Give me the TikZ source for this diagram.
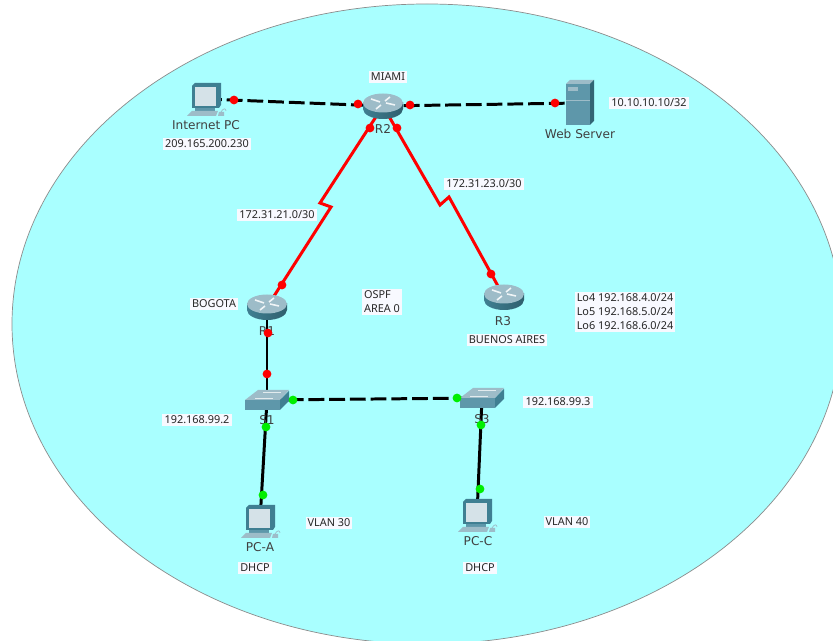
\documentclass[tikz,border=0pt]{standalone}
\usepackage{fontspec}
\setmainfont{DejaVu Sans}
\newfontfamily\notefont{Noto Sans}
\definecolor{cloudfill}{HTML}{A9FFFF}
\definecolor{icondark}{HTML}{3F7F92}
\definecolor{iconmid}{HTML}{5E97AA}
\definecolor{iconlight}{HTML}{9DBCC8}
\definecolor{screenfill}{HTML}{D5E2E8}
\definecolor{notefill}{HTML}{F8F9FF}
\definecolor{portred}{HTML}{FF0000}
\definecolor{portgreen}{HTML}{00EE00}
\tikzset{
    devlabel/.style={font=\fontsize{6.9}{8}\selectfont, text=black!75, inner sep=0pt},
    notelabel/.style={font=\notefont\fontsize{6.2}{8}\selectfont, text=black!85, fill=notefill, inner sep=1.2pt, align=left},
    wire/.style={line width=1.7pt, black},
    wirewan/.style={line width=1.7pt, red, line join=miter},
    wiredash/.style={wire, dash pattern=on 9pt off 2.8pt},
    portup/.style={circle, fill=portred, inner sep=0pt, minimum size=5pt},
    portsw/.style={circle, fill=portgreen, inner sep=0pt, minimum size=5pt},
    pics/routericon/.style={code={
        \shade[left color=icondark, middle color=white!90!icondark, right color=icondark!75!black]
            (-20,-3) rectangle (20,3);
        \shade[left color=icondark, middle color=white!90!icondark, right color=icondark!75!black]
            (0,3) ellipse [x radius=20, y radius=10];
        \fill[iconlight] (0,-3) ellipse [x radius=20, y radius=9.5];
        \draw[white!85!iconlight, line width=.9pt] (-12,-7) -- (-3,-4);
        \draw[white!85!iconlight, line width=.9pt] (12,-1) -- (3,-3);
        \draw[white!85!iconlight, line width=.9pt] (7,-9) -- (2,-5);
        \draw[white!85!iconlight, line width=.9pt] (-7,3) -- (-2,-1);
    }},
    pics/switchicon/.style={code={
        \fill[iconmid] (-22,0) -- (13,0) -- (13,10) -- (-22,10) -- cycle;
        \fill[icondark] (13,0) -- (22,-9) -- (22,1) -- (13,10) -- cycle;
        \fill[iconlight] (-22,0) -- (-9,-10) -- (22,-10) -- (13,0) -- cycle;
        \draw[white!70!iconlight, line width=.4pt] (-12,-2) -- (6,-2) (-4,-8) -- (14,-8);
    }},
    pics/pcicon/.style={code={
        \fill[icondark] (-11,-16) -- (15,-16) -- (15,6) -- (13,9) -- (-14,9) -- (-14,-13) -- cycle;
        \fill[screenfill] (-11,-12) rectangle (10,7);
        \fill[iconmid] (-11,9) rectangle (9,12);
        \fill[iconlight] (-14,12) -- (12,12) -- (10,17) -- (-19,17) -- cycle;
        \fill[iconlight] (13,13) -- (18,13) -- (18,17) -- (12,17) -- cycle;
        \draw[iconlight, line width=.4pt] (15,13) .. controls (17,9) and (20,9) .. (20,12);
    }},
    pics/servericon/.style={code={
        \fill[iconlight] (-14,-19) -- (-10,-23) -- (14,-23) -- (10,-19) -- cycle;
        \fill[icondark!80!black] (10,-19) -- (14,-23) -- (14,18) -- (10,22) -- cycle;
        \fill[iconmid] (-14,-19) rectangle (10,22);
        \fill[iconlight] (-12,-16) rectangle (-2,-12);
        \draw[iconlight, line width=.4pt] (-14,-3) -- (10,-3);
    }},
}
\begin{document}
\begin{tikzpicture}[x=0.02cm, y=-0.02cm]
    \clip (0,0) rectangle (833,641);
    \fill[white] (0,0) rectangle (833,641);
    \draw[fill=cloudfill, draw=black!45, line width=.4pt] (427,324) ellipse [x radius=415, y radius=320];

    % devices
    \coordinate (netpc) at (206,99);
    \coordinate (R2) at (383,106);
    \coordinate (server) at (580,103);
    \coordinate (R1) at (267,307);
    \coordinate (R3) at (504,297);
    \coordinate (S1) at (267,400);
    \coordinate (S3) at (482,398);
    \coordinate (pca) at (260,521);
    \coordinate (pcc) at (477,515);

    % bends of the serial links
    \coordinate (bendaa) at (320,203);
    \coordinate (bendab) at (331,207);
    \coordinate (bendba) at (440,205);
    \coordinate (bendbb) at (449,197);

    % links
    \draw[wiredash] (netpc) -- (R2);
    \draw[wiredash] (R2) -- (server);
    \draw[wirewan] (R2) -- (bendaa) -- (bendab) -- (R1);
    \draw[wirewan] (R2) -- (bendba) -- (bendbb) -- (R3);
    \draw[wire] (R1) -- (S1);
    \draw[wire] (S1) -- (pca);
    \draw[wire] (S3) -- (pcc);
    \draw[wiredash] (S1) -- (S3);

    % icons
    \pic at (netpc) {pcicon};
    \pic at (pca) {pcicon};
    \pic at (pcc) {pcicon};
    \pic at (R2) {routericon};
    \pic at (R1) {routericon};
    \pic at (R3) {routericon};
    \pic at (S1) {switchicon};
    \pic at (S3) {switchicon};
    \pic at (server) {servericon};

    % device names
    \node[devlabel] (namenet) at (206,125) {Internet PC};
    \node[devlabel] (namer2) at (383,129) {R2};
    \node[devlabel] (nameweb) at (580,134) {Web Server};
    \node[devlabel] (namer1) at (267,331) {R1};
    \node[devlabel] (namer3) at (503,321) {R3};
    \node[devlabel] (names1) at (267,420) {S1};
    \node[devlabel] (names3) at (482,419) {S3};
    \node[devlabel] (namepca) at (260,547) {PC-A};
    \node[devlabel] (namepcc) at (478,541) {PC-C};

    % link lights
    \node[portup] (upa) at (234,100) {};
    \node[portup] (upb) at (358,104) {};
    \node[portup] (upc) at (410,105) {};
    \node[portup] (upd) at (555,103) {};
    \node[portup] (upe) at (370,128) {};
    \node[portup] (upf) at (397,128) {};
    \node[portup] (upg) at (282,285) {};
    \node[portup] (uph) at (491,274) {};
    \node[portup] (upi) at (268,333) {};
    \node[portup] (upj) at (267,374) {};
    \node[portsw] (swa) at (293,400) {};
    \node[portsw] (swb) at (457,398) {};
    \node[portsw] (swc) at (266,427) {};
    \node[portsw] (swd) at (263,495) {};
    \node[portsw] (swe) at (481,425) {};
    \node[portsw] (swf) at (480,489) {};

    % notes
    \node[notelabel] (miami) at (388,77) {MIAMI};
    \node[notelabel] (ipnet) at (207,144) {209.165.200.230};
    \node[notelabel] (ipweb) at (649,103) {10.10.10.10/32};
    \node[notelabel] (lana) at (277,215) {172.31.21.0/30};
    \node[notelabel] (lanb) at (484,184) {172.31.23.0/30};
    \node[notelabel] (bogota) at (214,304) {BOGOTA};
    \node[notelabel] (ospf) at (382,302) {OSPF\\AREA 0};
    \node[notelabel] (baires) at (507,340) {BUENOS AIRES};
    \node[notelabel] (loops) at (625,312) {Lo4 192.168.4.0/24\\Lo5 192.168.5.0/24\\Lo6 192.168.6.0/24};
    \node[notelabel] (ipsa) at (197,420) {192.168.99.2};
    \node[notelabel] (ipsb) at (558,402) {192.168.99.3};
    \node[notelabel] (vlana) at (329,523) {VLAN 30};
    \node[notelabel] (vlanb) at (567,522) {VLAN 40};
    \node[notelabel] (dhcpa) at (255,568) {DHCP};
    \node[notelabel] (dhcpb) at (480,568) {DHCP};
\end{tikzpicture}
\end{document}
